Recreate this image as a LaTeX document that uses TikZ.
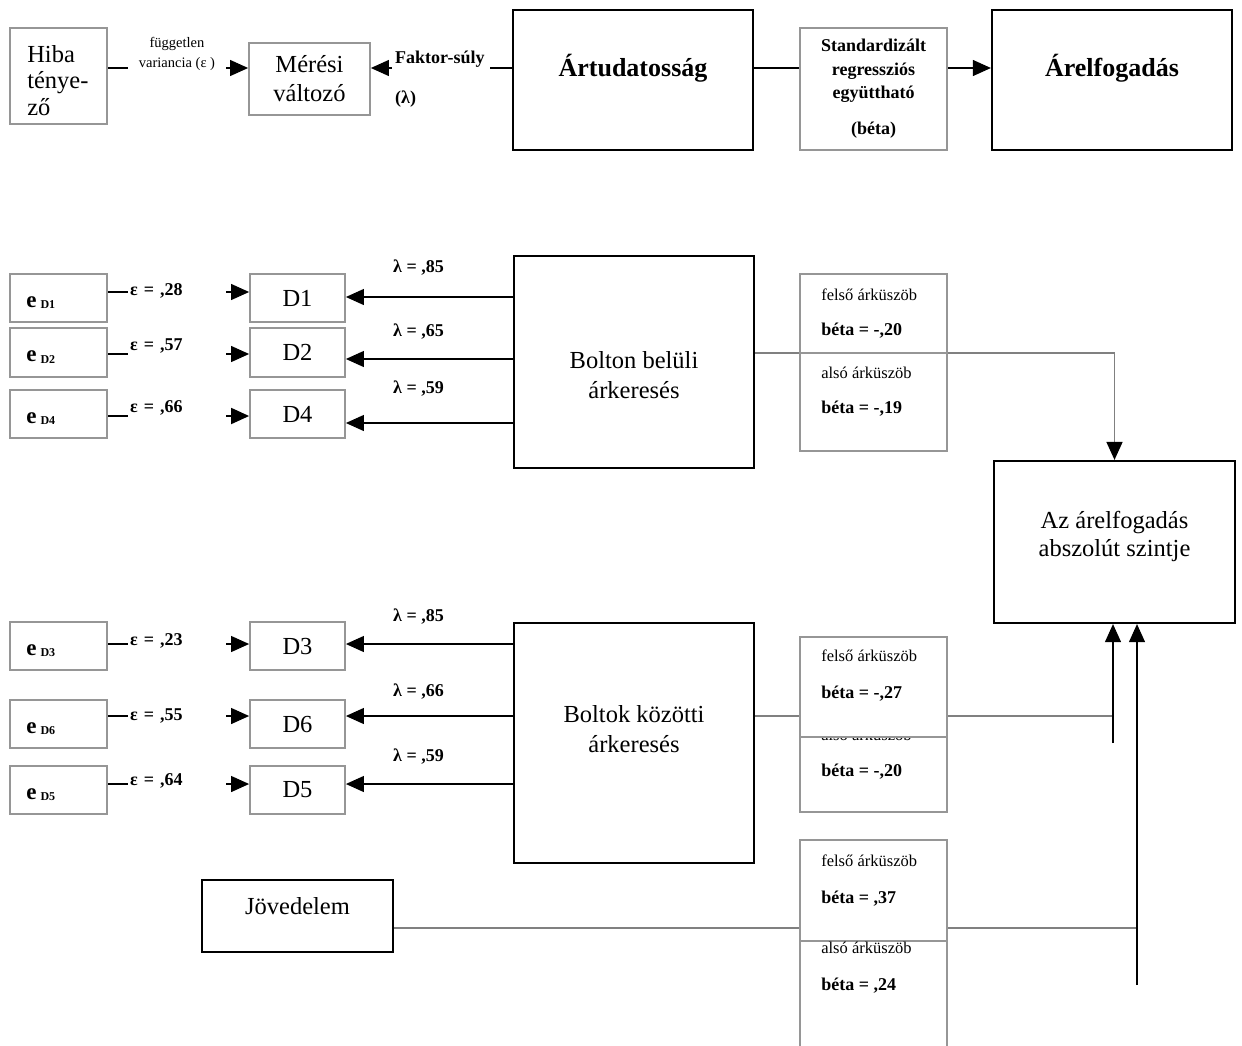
\documentclass[tikz,border=0pt]{standalone}
\usepackage{fontspec}
\setmainfont{Liberation Serif}
\usetikzlibrary{arrows.meta,backgrounds}

\definecolor{boxgray}{RGB}{150,150,150}
\definecolor{linkgray}{RGB}{128,128,128}

\newcommand\freg{\fontsize{24.5}{28}\selectfont}
\newcommand\fhead{\fontsize{26}{30}\selectfont\bfseries}
\newcommand\fsmall{\fontsize{16.5}{20}\selectfont}
\newcommand\fsbold{\fontsize{18}{22}\selectfont\bfseries}
\newcommand\ftiny{\fontsize{14.5}{20}\selectfont}
\newcommand\eD[1]{{\fontsize{23}{23}\selectfont\bfseries e}\hspace{4pt}\raisebox{-1.5pt}{\fontsize{12}{12}\selectfont\bfseries #1}}

\begin{document}
\begin{tikzpicture}[x=1pt,y=-1pt,
  gbox/.style={draw=boxgray, line width=1.8pt, fill=white, inner sep=0pt},
  kbox/.style={draw=black, line width=2.2pt, fill=white, inner sep=0pt},
  tip/.style={-{Triangle[length=18pt,width=16pt,color=black]}},
  link/.style={draw=black, line width=1.1pt},
  glink/.style={draw=linkgray, line width=1.5pt},
  eps/.style={anchor=west, fill=white, font=\fsbold, text width=94pt, align=left,
    inner xsep=2pt, inner ysep=0pt, minimum height=22pt},
  lam/.style={anchor=west, font=\fsbold, inner sep=0pt},
  btxt/.style={anchor=base west, font=\fsmall, inner sep=0pt, xshift=22pt},
  bval/.style={anchor=base west, font=\fsbold, inner sep=0pt, xshift=22pt},
  etxt/.style={anchor=base west, inner sep=0pt, xshift=17pt, yshift=-9pt},
  big/.style={font=\fontsize{24.5}{30}\selectfont, align=center},
]
\useasboundingbox (0,0) rectangle (1242,1045);

% ---------- legend row ----------
\node[gbox, minimum width=97pt, minimum height=96pt,
  label={[anchor=north west, align=left, font=\fontsize{24.5}{26.5}\selectfont,
    inner sep=0pt, xshift=18pt, yshift=-18pt]north west:{Hiba\\ténye-\\ző}}] (hiba) at (58.5,76) {};
\node[gbox, minimum width=121pt, minimum height=72pt,
  font=\fontsize{24.5}{29}\selectfont, align=center] (meresi) at (309.5,79) {Mérési\\változó};
\node[kbox, minimum width=240pt, minimum height=140pt,
  label={[font=\fhead, yshift=12pt]center:Ártudatosság}] (artud) at (633,80) {};
\node[gbox, minimum width=147pt, minimum height=122pt,
  font=\fontsize{18}{23.5}\selectfont\bfseries, align=center] (std) at (873.5,89)
  {Standardizált\\regressziós\\együttható\\[12.5pt](béta)};
\node[kbox, minimum width=240pt, minimum height=140pt,
  label={[font=\fhead, yshift=12pt]center:Árelfogadás}] (arelf) at (1112,80) {};

% ---------- within-store search ----------
\node[gbox, minimum width=97pt, minimum height=48pt, label={[etxt]west:\eD{D1}}] (e1) at (58.5,298) {};
\node[gbox, minimum width=97pt, minimum height=49pt, label={[etxt]west:\eD{D2}}] (e2) at (58.5,352.5) {};
\node[gbox, minimum width=97pt, minimum height=48pt, label={[etxt]west:\eD{D4}}] (e4) at (58.5,414) {};
\node[gbox, minimum width=95pt, minimum height=48pt, font=\freg] (d1) at (297.5,298) {D1};
\node[gbox, minimum width=95pt, minimum height=49pt, font=\freg] (d2) at (297.5,352.5) {D2};
\node[gbox, minimum width=95pt, minimum height=48pt, font=\freg] (d4) at (297.5,414) {D4};
\node[kbox, minimum width=240pt, minimum height=212pt,
  label={[big, yshift=-13pt]center:{Bolton belüli\\árkeresés}}] (bolton) at (634,362) {};
\node[gbox, minimum width=147pt, minimum height=79pt,
  label={[btxt, yshift=-27pt]north west:felső árküszöb},
  label={[bval, yshift=-62pt]north west:{béta = -,20}}] (b1u) at (873.5,313.5) {};
\node[gbox, minimum width=147pt, minimum height=98pt,
  label={[btxt, yshift=-26pt]north west:alsó árküszöb},
  label={[bval, yshift=-61pt]north west:{béta = -,19}}] (b1l) at (873.5,402) {};

% ---------- outcome ----------
\node[kbox, minimum width=241pt, minimum height=162pt,
  label={[font=\fontsize{24.5}{28}\selectfont, align=center, yshift=6pt]center:{Az árelfogadás\\abszolút szintje}}] (az) at (1114.5,542) {};

% ---------- between-store search ----------
\node[gbox, minimum width=97pt, minimum height=48pt, label={[etxt]west:\eD{D3}}] (e3) at (58.5,646) {};
\node[gbox, minimum width=97pt, minimum height=48pt, label={[etxt]west:\eD{D6}}] (e6) at (58.5,724) {};
\node[gbox, minimum width=97pt, minimum height=48pt, label={[etxt]west:\eD{D5}}] (e5) at (58.5,790) {};
\node[gbox, minimum width=95pt, minimum height=48pt, font=\freg] (d3) at (297.5,646) {D3};
\node[gbox, minimum width=95pt, minimum height=48pt, font=\freg] (d6) at (297.5,724) {D6};
\node[gbox, minimum width=95pt, minimum height=48pt, font=\freg] (d5) at (297.5,790) {D5};
\node[kbox, minimum width=240pt, minimum height=240pt,
  label={[big, yshift=14pt]center:{Boltok közötti\\árkeresés}}] (boltok) at (634,743) {};
\node[gbox, minimum width=147pt, minimum height=75pt,
  label={[btxt, yshift=-4pt]north west:alsó árküszöb},
  label={[bval, yshift=-40pt]north west:{béta = -,20}}] (b2l) at (873.5,774.5) {};
\node[gbox, minimum width=147pt, minimum height=100pt,
  label={[btxt, yshift=-25pt]north west:felső árküszöb},
  label={[bval, yshift=-62pt]north west:{béta = -,27}}] (b2u) at (873.5,687) {};

% ---------- income ----------
\node[kbox, minimum width=191pt, minimum height=72pt,
  label={[font=\freg, yshift=10pt]center:Jövedelem}] (jov) at (297.5,916) {};
\node[gbox, minimum width=147pt, minimum height=101pt,
  label={[btxt, yshift=-27pt]north west:felső árküszöb},
  label={[bval, yshift=-64pt]north west:{béta = ,37}}] (b3u) at (873.5,890.5) {};
\node[gbox, minimum width=147pt, minimum height=115pt,
  label={[btxt, yshift=-13pt]north west:alsó árküszöb},
  label={[bval, yshift=-50pt]north west:{béta = ,24}}] (b3l) at (873.5,998.5) {};

% junctions and free ends of the vertical feeders
\coordinate (ja) at (1113,716);
\coordinate (sa) at (1113,743);
\coordinate (jb) at (1137,928);
\coordinate (sb) at (1137,985);

\begin{pgfonlayer}{background}
  \fill[white] (0,0) rectangle (1242,1045);
  % legend row
  \draw[link, tip] (hiba.east |- 0,68) -- (meresi.west |- 0,68);
  \draw[link, tip] (artud.west |- 0,68) -- (meresi.east |- 0,68);
  \draw[link] (artud.east |- 0,68) -- (std.west |- 0,68);
  \draw[link, tip] (std.east |- 0,68) -- (arelf.west |- 0,68);
  % error terms into indicators
  \draw[link, tip] (e1.east |- 0,292) -- (d1.west |- 0,292);
  \draw[link, tip] (e2.east |- 0,354) -- (d2.west |- 0,354);
  \draw[link, tip, line width=1.8pt] (e4.east |- 0,416) -- (d4.west |- 0,416);
  \draw[link, tip] (e3.east |- 0,644) -- (d3.west |- 0,644);
  \draw[link, tip] (e6.east |- 0,716) -- (d6.west |- 0,716);
  \draw[link, tip] (e5.east |- 0,784) -- (d5.west |- 0,784);
  % factor loadings
  \draw[link, tip] (bolton.west |- 0,297) -- (d1.east |- 0,297);
  \draw[link, tip] (bolton.west |- 0,359) -- (d2.east |- 0,359);
  \draw[link, tip] (bolton.west |- 0,423) -- (d4.east |- 0,423);
  \draw[link, tip] (boltok.west |- 0,644) -- (d3.east |- 0,644);
  \draw[link, tip] (boltok.west |- 0,716) -- (d6.east |- 0,716);
  \draw[link, tip] (boltok.west |- 0,784) -- (d5.east |- 0,784);
  % regression paths
  \draw[glink, tip] (bolton.east |- 0,353) -| (az.north);
  \draw[glink] (boltok.east |- ja) -- (ja);
  \draw[link, tip] (sa) -- (sa |- az.south);
  \draw[glink] (jov.east |- jb) -- (jb);
  \draw[link, tip] (sb) -- (sb |- az.south);
\end{pgfonlayer}

% path labels
\node[fill=white, font=\ftiny, align=center, inner xsep=11pt, inner ysep=2pt] (fv) at (177,54)
  {független\\variancia (ε )};
\node[fill=white, font=\fontsize{18}{40}\selectfont\bfseries, align=left, anchor=north west,
  inner xsep=3pt, inner ysep=2pt, text width=92pt] (fs) at (392,48.5) {Faktor-súly\\(λ)};

\node[eps] (eps1) at (128,291) {ε = ,28};
\node[eps] (eps2) at (128,346) {ε = ,57};
\node[eps] (eps4) at (128,408) {ε = ,66};
\node[eps] (eps3) at (128,641) {ε = ,23};
\node[eps] (eps6) at (128,716) {ε = ,55};
\node[eps] (eps5) at (128,781) {ε = ,64};

\node[lam] (lam1) at (393,268) {λ = ,85};
\node[lam] (lam2) at (393,332) {λ = ,65};
\node[lam] (lam4) at (393,389) {λ = ,59};
\node[lam] (lam3) at (393,617) {λ = ,85};
\node[lam] (lam6) at (393,692) {λ = ,66};
\node[lam] (lam5) at (393,757) {λ = ,59};
\end{tikzpicture}
\end{document}
